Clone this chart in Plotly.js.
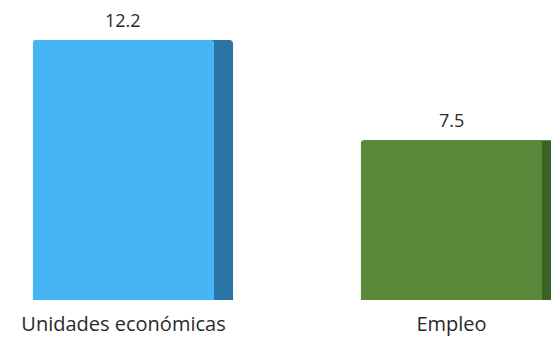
<!DOCTYPE html>
<html><head><meta charset="utf-8">
<script src="https://cdn.plot.ly/plotly-3.0.1.min.js"></script>
<style>html,body{margin:0;padding:0;background:#fff;}#c{width:551px;height:339px;}</style>
</head><body><div id="c"></div>
<script>
var categories = ["Unidades económicas", "Empleo"];
var values = [12.2, 7.5];
var labels = ["12.2", "7.5"];
var frontColors = ["#46b5f4", "#588a3a"];
var sideColors = ["#2a74a6", "#3a6324"];

var xs = categories.map(function(_, i){ return i; });
var frontW = 0.552, sideW = 0.058;

var side = {
  type: "bar", x: xs, y: values,
  width: frontW + sideW, offset: -frontW/2,
  marker: {color: sideColors, cornerradius: 4, line: {width: 0}},
  hoverinfo: "skip", showlegend: false
};
var front = {
  type: "bar", x: xs, y: values,
  width: frontW, offset: -frontW/2,
  marker: {color: frontColors, cornerradius: 3, line: {width: 0}},
  hoverinfo: "skip", showlegend: false
};

var annotations = xs.map(function(x, i){
  return {x: x, y: values[i], text: labels[i], showarrow: false,
    xanchor: "center", yanchor: "bottom", yshift: 6,
    font: {family: "Open Sans", size: 18, color: "#2a2a2a"}};
});

var layout = {
  width: 551, height: 339,
  margin: {l: 0, r: 0, t: 0, b: 39},
  paper_bgcolor: "#ffffff", plot_bgcolor: "#ffffff",
  barmode: "overlay",
  xaxis: {range: [-0.3765, 1.3034], tickvals: xs, ticktext: categories,
    showgrid: false, zeroline: false, showline: false,
    ticks: "outside", ticklen: 6, tickcolor: "rgba(0,0,0,0)",
    tickfont: {family: "Open Sans", size: 20, color: "#2a2a2a"}},
  yaxis: {range: [0, 14.08], visible: false, showgrid: false, zeroline: false},
  annotations: annotations,
  showlegend: false
};
Plotly.newPlot("c", [side, front], layout, {displayModeBar: false, staticPlot: true});
</script></body></html>
